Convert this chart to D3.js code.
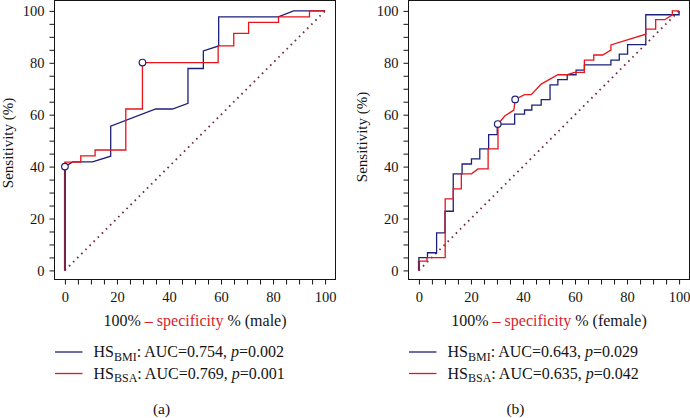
<!DOCTYPE html>
<html>
<head>
<meta charset="utf-8">
<script src="https://cdn.jsdelivr.net/npm/d3@7"></script>
<style>
  body { margin: 0; background: #fff; }
  svg { display: block; }
  text { font-family: "Liberation Serif", "DejaVu Serif", serif; }
</style>
</head>
<body>
<svg id="chart" width="690" height="418"></svg>
<script>
// ROC curves: [100% - specificity, sensitivity]
var maleBMI = [[0,0],[0,40],[3,41.8],[10.6,41.8],[17.6,44],[17.6,55.6],[34.9,62.2],[41.3,62.2],[47.3,64.4],
  [47.3,77.8],[53.2,77.8],[53.2,84.6],[59.1,86.5],[59.1,97.7],[82,97.7],[87.9,100],[100,100]]
var maleBSA = [[0,0],[0,41.7],[6.1,41.7],[6.1,44.1],[11.6,44.1],[11.6,46.4],[23.4,46.4],[23.4,62.2],[29.8,62.2],
  [29.8,80.1],[58.9,80.1],[58.9,86.5],[64.9,86.5],[64.9,91.3],[70.6,91.3],[70.6,95.6],[82.1,95.6],[82.1,97.7],
  [94,97.7],[94,100],[100,100]]
var femaleBMI = [[0,0],[0,4.9],[3.3,4.9],[3.3,6.8],[6.8,6.8],[6.8,14.5],[10,14.5],[10,22.8],[13.2,22.8],[13.2,37.2],
  [16.6,37.2],[16.6,41],[20.2,41],[20.2,43],[23.4,43],[23.4,46.8],[26.8,46.8],[26.8,52.3],[30.1,52.3],[30.1,56.4],
  [36.8,56.4],[36.8,60.2],[40.6,60.2],[40.6,61.8],[43.4,61.8],[43.4,63.7],[47,63.7],[47,65.8],[50.4,65.8],[50.4,71.5],
  [53.4,71.5],[53.4,73.5],[57,73.5],[57,75.4],[60.4,75.4],[60.4,77.2],[63.6,77.2],[63.6,79.2],[73.8,79.2],[73.8,81],
  [77,81],[77,83.3],[80.2,83.3],[80.2,87],[87.2,87],[87.2,98.5],[100,98.5],[100,100]]
var femaleBSA = [[0,0],[0,3.6],[3.1,3.6],[3.1,4.9],[10.1,4.9],[10.1,27.6],[13.2,27.6],[13.2,31.4],[16.3,31.4],
  [16.3,37.2],[20.2,37.2],[22.7,39.1],[26.6,39.1],[26.6,46.8],[30.4,46.8],[30.4,56.4],[33,59.5],[36.5,61.8],[37,65.9],
  [40.6,67.7],[43.2,67.7],[47,71.8],[53.4,75.4],[57,75.4],[59.8,76.3],[63.6,76.3],[63.6,81],[67.2,81],[67.2,83],
  [70.6,83],[73.8,84.9],[73.8,86.9],[87.2,91],[87.2,93],[91,93],[91,96.6],[94.5,96.6],[97.4,98.5],[97.4,100],[100,100]]
var maleCut = [[0,40],[29.8,80.1]]
var femaleCut = [[30.3,56.4],[37,65.9]]

var groups = ["male", "female"]
var captions = ["(a)", "(b)"]
var aucBMI = ["0.754", "0.643"], pBMI = ["0.002", "0.029"]
var aucBSA = ["0.769", "0.635"], pBSA = ["0.001", "0.042"]
var tickLabels = [0, 20, 40, 60, 80, 100]
var tickMarks = d3.range(0, 101, 5)

var NAVY = "#1d2078", RED = "#e8141b", MAROON = "#7a1f45", DIAG = "#6e2a3b", INK = "#141414"

var svg = d3.select("#chart")
var panels = [
  { left: 54.5, bmi: maleBMI, bsa: maleBSA, cut: maleCut, ty: 143 },
  { left: 408.5, bmi: femaleBMI, bsa: femaleBSA, cut: femaleCut, ty: 137 }
]

panels.forEach(function(p, i) {
  var x = d3.scaleLinear().domain([-4, 104]).range([p.left, p.left + 281])
  var y = d3.scaleLinear().domain([-3.5, 104]).range([279.5, 0.5])
  var g = svg.append("g")
  var fmt = function(d) { return tickLabels.indexOf(d) >= 0 ? d : "" }

  var ax = g.append("g").attr("transform", "translate(0,279.5)")
    .call(d3.axisBottom(x).tickValues(tickMarks).tickFormat(fmt).tickSize(5).tickPadding(7))
  var ay = g.append("g").attr("transform", "translate(" + p.left + ",0)")
    .call(d3.axisLeft(y).tickValues(tickMarks).tickFormat(fmt).tickSize(5).tickPadding(5))
  ;[ax, ay].forEach(function(a) {
    a.select(".domain").remove()
    a.selectAll("text").attr("font-size", 14.5).attr("fill", INK)
      .style("font-family", "Liberation Serif")
    a.selectAll("line").attr("stroke", INK)
  })

  g.append("rect").attr("x", p.left).attr("y", 0.5).attr("width", 281).attr("height", 279)
    .attr("fill", "none").attr("stroke", INK).attr("stroke-width", 1)

  // reference diagonal
  g.append("line").attr("x1", x(0)).attr("y1", y(0)).attr("x2", x(100)).attr("y2", y(100))
    .attr("stroke", DIAG).attr("stroke-width", 1.8).attr("stroke-dasharray", "1.6,4.2")

  var line = d3.line().x(function(d) { return x(d[0]) }).y(function(d) { return y(d[1]) })
  g.append("path").attr("d", line(p.bmi)).attr("fill", "none").attr("stroke", NAVY).attr("stroke-width", 1.3)
  g.append("path").attr("d", line(p.bsa)).attr("fill", "none").attr("stroke", RED).attr("stroke-width", 1.3)

  // shared first vertical step shows as a blend of the two colours
  if (p.bmi[1][0] === 0 && p.bsa[1][0] === 0) {
    var top = Math.min(p.bmi[1][1], p.bsa[1][1])
    g.append("line").attr("x1", x(0)).attr("x2", x(0)).attr("y1", y(0)).attr("y2", y(top))
      .attr("stroke", MAROON).attr("stroke-width", 2)
  }

  g.selectAll("circle.cut").data(p.cut).enter().append("circle")
    .attr("cx", function(d) { return x(d[0]) }).attr("cy", function(d) { return y(d[1]) })
    .attr("r", 3.3).attr("fill", "#fff").attr("stroke", NAVY).attr("stroke-width", 1.2)

  // x title
  var xt = g.append("text").attr("x", p.left + 140.5).attr("y", 326).attr("text-anchor", "middle")
    .attr("font-size", 16).attr("fill", INK)
  xt.append("tspan").text("100% ")
  xt.append("tspan").attr("fill", "#d8232a").text("\u2013 specificity")
  xt.append("tspan").text(" % (" + groups[i] + ")")

  // y title
  g.append("text").attr("transform", "translate(" + (p.left - 41.5) + "," + p.ty + ") rotate(-90)")
    .attr("text-anchor", "middle").attr("font-size", 15).attr("fill", INK).text("Sensitivity (%)")

  // legend
  var rows = [
    { c: NAVY, sub: "BMI", auc: aucBMI[i], pv: pBMI[i] },
    { c: RED, sub: "BSA", auc: aucBSA[i], pv: pBSA[i] }
  ]
  rows.forEach(function(r, k) {
    var ly = 352 + k * 21.5
    g.append("line").attr("x1", p.left + 0.5).attr("x2", p.left + 28).attr("y1", ly).attr("y2", ly)
      .attr("stroke", r.c).attr("stroke-width", 1.3)
    var t = g.append("text").attr("x", p.left + 39).attr("y", ly + 5).attr("font-size", 16).attr("fill", INK)
    t.append("tspan").text("HS")
    t.append("tspan").attr("font-size", 12).attr("dy", 3.5).text(r.sub)
    t.append("tspan").attr("dy", -3.5).text(": AUC=" + r.auc + ", ")
    t.append("tspan").attr("font-style", "italic").text("p")
    t.append("tspan").text("=" + r.pv)
  })

  g.append("text").attr("x", p.left + 107).attr("y", 414).attr("text-anchor", "middle")
    .attr("font-size", 15.5).attr("fill", INK).text(captions[i])
})
</script>
</body>
</html>
